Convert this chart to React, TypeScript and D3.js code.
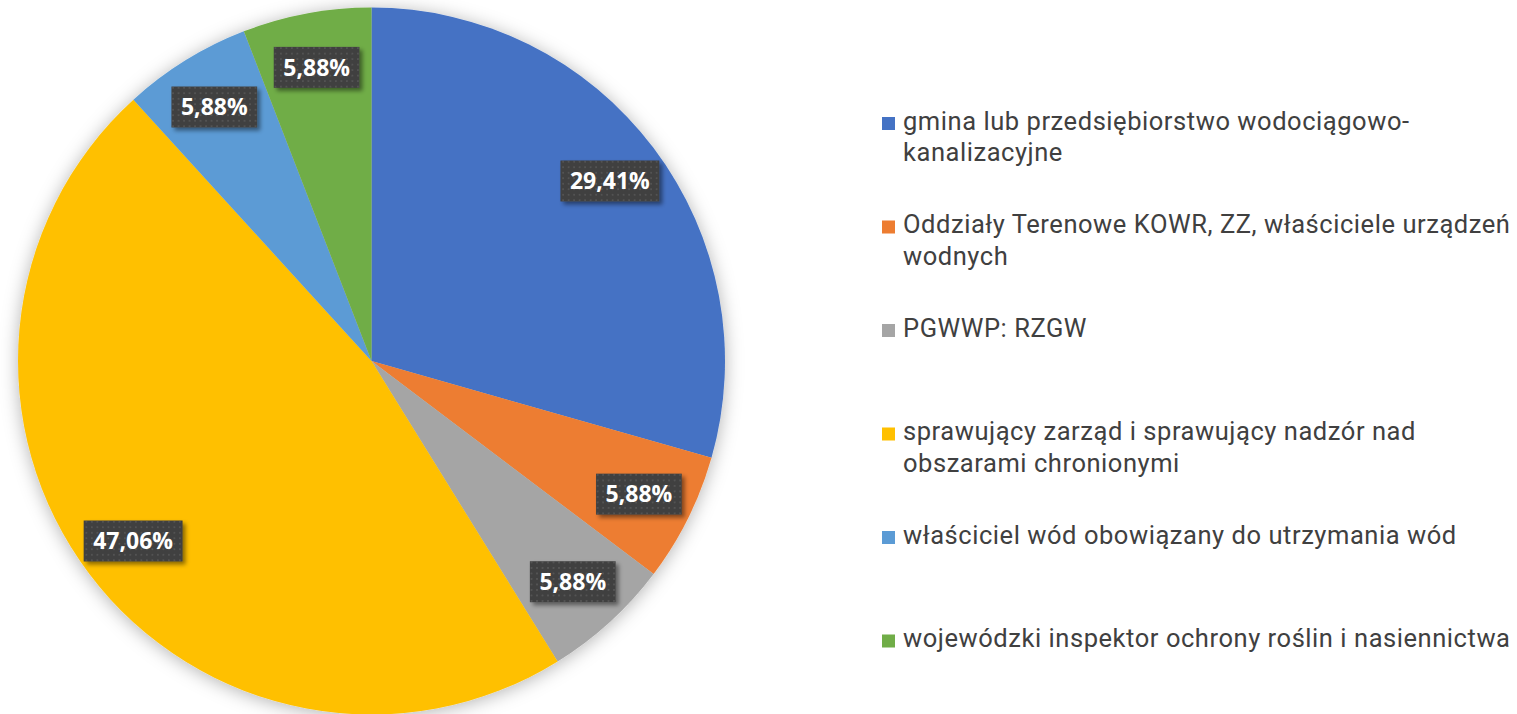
import * as d3 from 'd3';
import React from 'react';

// wartości (%)
const categories = [
  "gmina lub przedsiębiorstwo wodociągowo-kanalizacyjne",
  "Oddziały Terenowe KOWR, ZZ, właściciele urządzeń wodnych",
  "PGWWP: RZGW",
  "sprawujący zarząd i sprawujący nadzór nad obszarami chronionymi",
  "właściciel wód obowiązany do utrzymania wód",
  "wojewódzki inspektor ochrony roślin i nasiennictwa",
];
const legendLines = [
  ["gmina lub przedsiębiorstwo wodociągowo-", "kanalizacyjne"],
  ["Oddziały Terenowe KOWR, ZZ, właściciele urządzeń", "wodnych"],
  ["PGWWP: RZGW"],
  ["sprawujący zarząd i sprawujący nadzór nad", "obszarami chronionymi"],
  ["właściciel wód obowiązany do utrzymania wód"],
  ["wojewódzki inspektor ochrony roślin i nasiennictwa"],
];
const values = [29.41, 5.88, 5.88, 47.06, 5.88, 5.88];
const colors = ["#4472C4", "#ED7D31", "#A5A5A5", "#FFC000", "#5B9BD5", "#70AD47"];

const width = 1517;
const height = 714;

function App() {
  const ref = React.useRef<SVGSVGElement>(null);

  React.useEffect(() => {
    const svg = d3.select(ref.current);
    svg.selectAll("*").remove();

    const cx = 371.5, cy = 361, r = 353.5;
    const defs = svg.append("defs");

    const sh = defs.append("filter").attr("id", "pieShadow")
      .attr("x", "-10%").attr("y", "-10%").attr("width", "120%").attr("height", "120%");
    sh.append("feDropShadow").attr("dx", 0).attr("dy", 2).attr("stdDeviation", 9)
      .attr("flood-color", "#000").attr("flood-opacity", 0.3);

    const lsh = defs.append("filter").attr("id", "lblShadow")
      .attr("x", "-20%").attr("y", "-30%").attr("width", "150%").attr("height", "170%");
    lsh.append("feDropShadow").attr("dx", 3).attr("dy", 3).attr("stdDeviation", 2)
      .attr("flood-color", "#000").attr("flood-opacity", 0.45);

    const pat = defs.append("pattern").attr("id", "dots")
      .attr("patternUnits", "userSpaceOnUse").attr("width", 5.5).attr("height", 5.5);
    pat.append("rect").attr("width", 5.5).attr("height", 5.5).attr("fill", "#404040");
    pat.append("rect").attr("x", 2).attr("y", 2).attr("width", 1.5).attr("height", 1.5).attr("fill", "#5c5c5c");

    const color = d3.scaleOrdinal<string, string>(categories, colors);
    const arcs = d3.pie<number>().sort(null).value(d => d)(values);
    const arc = d3.arc<d3.PieArcDatum<number>>().innerRadius(0).outerRadius(r);
    const labelArc = d3.arc<d3.PieArcDatum<number>>().innerRadius(r * 0.845).outerRadius(r * 0.845);

    const g = svg.append("g").attr("transform", `translate(${cx},${cy})`);
    g.append("g").attr("filter", "url(#pieShadow)")
      .selectAll("path")
      .data(arcs)
      .join("path")
      .attr("fill", (d, i) => color(categories[i]))
      .attr("d", arc);

    const fmt = (v: number) => d3.format(".2f")(v).replace(".", ",") + "%";

    const labels = g.append("g").selectAll("g")
      .data(arcs)
      .join("g")
      .attr("transform", d => `translate(${labelArc.centroid(d)})`);
    const rects = labels.append("rect").attr("fill", "url(#dots)").attr("filter", "url(#lblShadow)");
    const texts = labels.append("text")
      .attr("text-anchor", "middle")
      .attr("dy", "0.36em")
      .attr("font-family", "'Open Sans', sans-serif")
      .attr("font-weight", 700)
      .attr("font-size", 23)
      .attr("fill", "#fff")
      .text(d => fmt(d.data));
    texts.each(function (_, i) {
      const w = (this as SVGTextElement).getComputedTextLength();
      d3.select(rects.nodes()[i])
        .attr("x", -w / 2 - 9.5).attr("y", -20.5)
        .attr("width", w + 19).attr("height", 41);
    });

    // legenda
    const leg = svg.append("g")
      .attr("font-family", "Roboto, sans-serif")
      .attr("font-size", 25.5)
      .attr("letter-spacing", 0.55)
      .attr("fill", "#404040");
    const items = leg.selectAll("g")
      .data(categories)
      .join("g")
      .attr("transform", (_, i) => `translate(882,${129.5 + i * 103.5})`);
    items.append("rect")
      .attr("x", 0).attr("y", -12.5).attr("width", 13).attr("height", 13)
      .attr("fill", d => color(d));
    items.append("text")
      .selectAll("tspan")
      .data((_, i) => legendLines[i])
      .join("tspan")
      .attr("x", 21)
      .attr("y", (_, j) => j * 31.7)
      .text(d => d);
  }, []);

  return (
    <svg ref={ref} width={width} height={height}
      style={{ position: "absolute", left: 0, top: 0, background: "#fff" }} />
  );
}

export default App;
